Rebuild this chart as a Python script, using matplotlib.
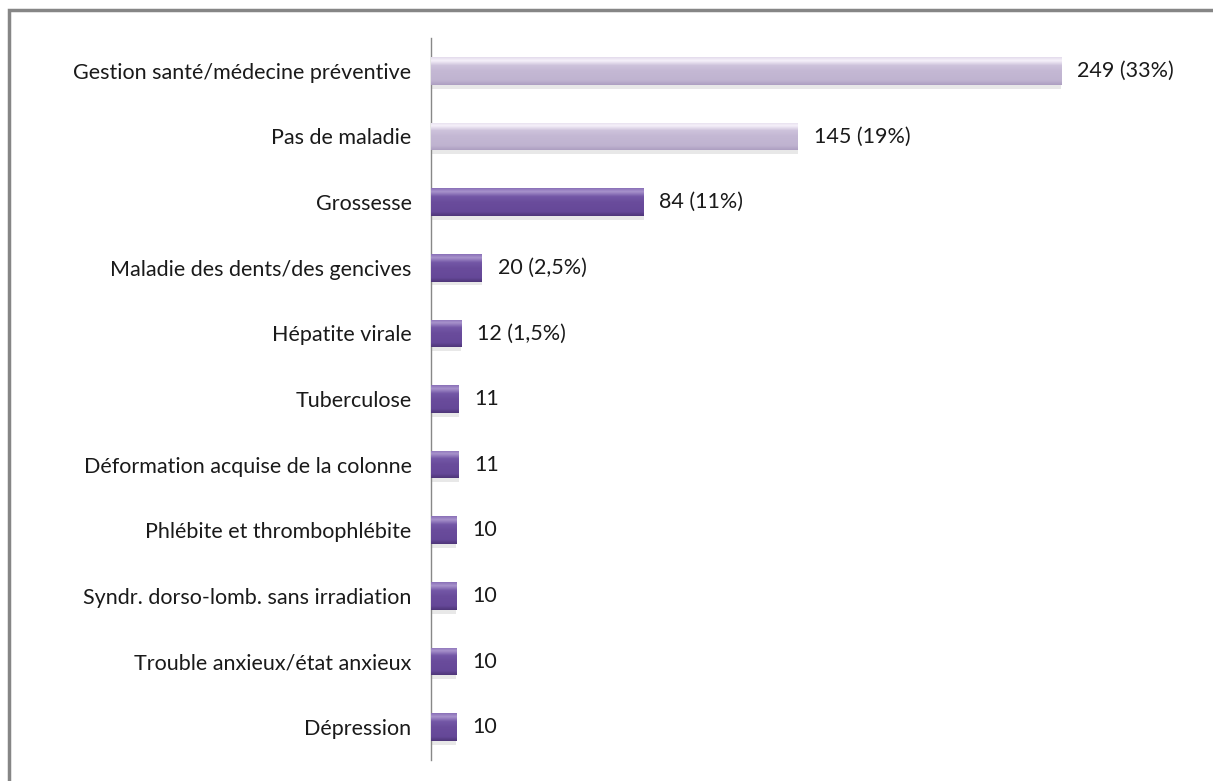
import matplotlib.pyplot as plt
import numpy as np
from matplotlib.patches import Rectangle
from matplotlib.colors import LinearSegmentedColormap

plt.rcParams['font.family'] = ['Lato', 'DejaVu Sans']

categories = [
    'Gestion santé/médecine préventive',
    'Pas de maladie',
    'Grossesse',
    'Maladie des dents/des gencives',
    'Hépatite virale',
    'Tuberculose',
    'Déformation acquise de la colonne',
    'Phlébite et thrombophlébite',
    'Syndr. dorso-lomb. sans irradiation',
    'Trouble anxieux/état anxieux',
    'Dépression',
]
values = [249, 145, 84, 20, 12, 11, 11, 10, 10, 10, 10]
value_labels = ['249 (33%)', '145 (19%)', '84 (11%)', '20 (2,5%)', '12 (1,5%)',
                '11', '11', '10', '10', '10', '10']
light = [True, True, False, False, False, False, False, False, False, False, False]

fig = plt.figure(figsize=(12.13, 7.81), dpi=100)
# outer frame (only top and left visible)
fig.add_artist(Rectangle((8.5 / 1213, -0.1), 1.2, 1 - 9.5 / 781 + 0.1,
                         transform=fig.transFigure, fill=False,
                         edgecolor='#868686', linewidth=2.5))

ax = fig.add_axes([431 / 1213, 21 / 781, (1180 - 431) / 1213, (760 - 38) / 781])
y = np.arange(len(categories))
h = 0.42

light_cmap = LinearSegmentedColormap.from_list(
    'l', [(0, '#e4dcec'), (0.12, '#f6f1fa'), (0.3, '#cdc2db'), (0.5, '#c4b8d4'),
          (0.85, '#bfb3d0'), (1, '#ad9fc1')])
dark_cmap = LinearSegmentedColormap.from_list(
    'd', [(0, '#8a70b8'), (0.12, '#a893cc'), (0.3, '#7357a6'), (0.5, '#6a4c9c'),
          (0.85, '#654898'), (1, '#4f3679')])
grad = np.linspace(0, 1, 64).reshape(-1, 1)

for i, (v, lt) in enumerate(zip(values, light)):
    # shadow
    ax.barh(y[i] + 0.06, v, height=h, color='#000000', alpha=0.09, zorder=1)
    bars = ax.barh(y[i], v, height=h, color='none', edgecolor='none', zorder=2)
    im = ax.imshow(grad, cmap=light_cmap if lt else dark_cmap, aspect='auto',
                   extent=(0, v, y[i] + h / 2, y[i] - h / 2), zorder=3)
    im.set_clip_path(bars[0])
    ax.text(v + 6.3, y[i], value_labels[i], va='center', ha='left',
            fontsize=15.5, color='#1a1a1a')

ax.set_xlim(0, 296)
ax.set_ylim(len(categories) - 0.5, -0.5)
ax.set_yticks(y)
ax.set_yticklabels(categories, fontsize=15.5, color='#1a1a1a')
ax.tick_params(axis='y', length=0, pad=14)
ax.set_xticks([])
for s in ['top', 'right', 'bottom']:
    ax.spines[s].set_visible(False)
ax.spines['left'].set_color('#888888')
ax.spines['left'].set_linewidth(1.0)

plt.savefig('out.png', dpi=100)
